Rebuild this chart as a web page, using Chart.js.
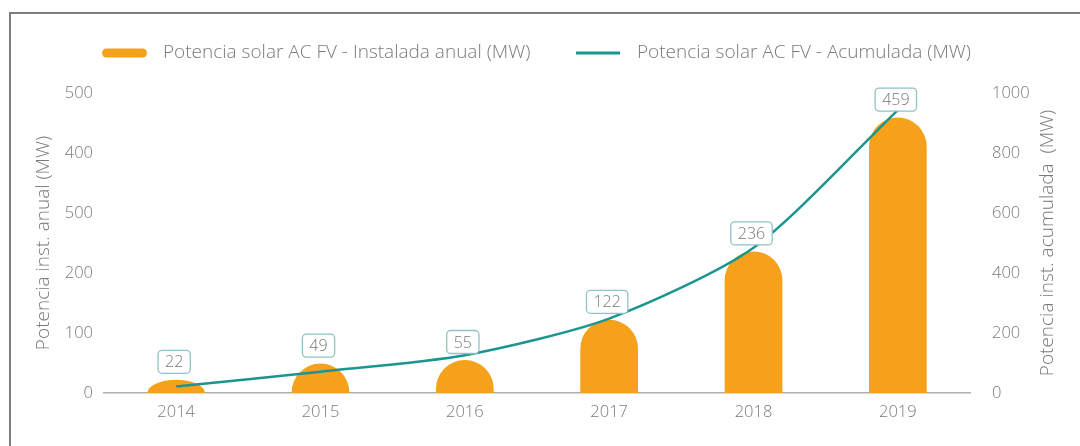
<!DOCTYPE html>
<html>
<head>
<meta charset="utf-8">
<script src="https://cdn.jsdelivr.net/npm/chart.js@4"></script>
<style>
  body { margin: 0; background: #fff; }
  #wrap { position: relative; width: 1080px; height: 446px; overflow: hidden; }
  #frame {
    position: absolute; left: 9px; top: 12px; width: 1100px; height: 460px;
    border-left: 2px solid #7d7d7d; border-top: 2px solid #7d7d7d;
  }
  #box { position: absolute; left: 0; top: 0; width: 1080px; height: 446px; }
</style>
</head>
<body>
<div id="wrap">
  <div id="frame"></div>
  <div id="box"><canvas id="solarChart"></canvas></div>
</div>
<script>
// Data
const years = ["2014", "2015", "2016", "2017", "2018", "2019"];
const annualMW = [22, 49, 55, 122, 236, 459];
const cumulativeMW = [22, 71, 126, 248, 484, 943];
const leftTickLabels = ["0", "100", "200", "500", "400", "500"]; // as printed in the original
const rightTickLabels = ["0", "200", "400", "600", "800", "1000"];

const ORANGE = "#f5a11c";
const TEAL = "#1b958f";
const GREY = "#7a7a7a";
const FONT = "'Open Sans', 'Noto Sans', sans-serif";

// legend drawn by hand so the two markers can differ in shape
const customLegend = {
  id: "customLegend",
  afterDraw(chart) {
    const c = chart.ctx;
    const y = 53;
    c.save();
    c.font = "300 19px " + FONT;
    c.textBaseline = "middle";

    c.fillStyle = ORANGE;
    c.beginPath();
    c.roundRect(102, y - 4.5, 45, 9, 4.5);
    c.fill();
    c.fillStyle = GREY;
    c.fillText(chart.data.datasets[1].label, 163, y);

    c.strokeStyle = TEAL;
    c.lineWidth = 3;
    c.beginPath();
    c.moveTo(576, y);
    c.lineTo(620, y);
    c.stroke();
    c.fillText(chart.data.datasets[0].label, 637, y);

    // right axis title, read bottom-to-top like the left one
    const a = chart.chartArea;
    c.translate(1048, (a.top + a.bottom) / 2);
    c.rotate(-Math.PI / 2);
    c.textAlign = "center";
    c.fillText("Potencia inst. acumulada  (MW)", 0, 0);
    c.restore();
  },
};

// rounded-top bars from the bar elements' own geometry
const domeBars = {
  id: "domeBars",
  beforeDatasetsDraw(chart) {
    const c = chart.ctx;
    const meta = chart.getDatasetMeta(1);
    c.save();
    c.fillStyle = ORANGE;
    meta.data.forEach((bar) => {
      const r = bar.width / 2;
      const h = bar.base - bar.y;
      c.beginPath();
      if (h >= r) {
        c.moveTo(bar.x - r, bar.base);
        c.lineTo(bar.x - r, bar.y + r);
        c.arc(bar.x, bar.y + r, r, Math.PI, 0);
        c.lineTo(bar.x + r, bar.base);
      } else {
        c.ellipse(bar.x, bar.base, r, h, 0, Math.PI, 0);
      }
      c.closePath();
      c.fill();
    });
    c.restore();
  },
};

// value boxes above every bar
const valueBoxes = {
  id: "valueBoxes",
  afterDatasetsDraw(chart) {
    const c = chart.ctx;
    const meta = chart.getDatasetMeta(1);
    c.save();
    c.font = "300 16px " + FONT;
    c.textAlign = "center";
    c.textBaseline = "middle";
    meta.data.forEach((bar, i) => {
      const txt = String(annualMW[i]);
      const w = c.measureText(txt).width + 14;
      const h = 23;
      const cx = bar.x - 2;
      const cy = bar.y - 18;
      c.fillStyle = "#fff";
      c.strokeStyle = "#8fc3c6";
      c.lineWidth = 1.3;
      c.beginPath();
      c.roundRect(cx - w / 2, cy - h / 2, w, h, 4);
      c.fill();
      c.stroke();
      c.fillStyle = GREY;
      c.fillText(txt, cx, cy + 1);
    });
    c.restore();
  },
};

const ctx = document.getElementById("solarChart").getContext("2d");
new Chart(ctx, {
  data: {
    labels: years,
    datasets: [
      {
        type: "line",
        label: "Potencia solar AC FV - Acumulada (MW)",
        data: cumulativeMW,
        yAxisID: "y1",
        borderColor: TEAL,
        borderWidth: 2.5,
        pointRadius: 0,
        tension: 0.25,
        order: 0,
      },
      {
        type: "bar",
        label: "Potencia solar AC FV - Instalada anual (MW)",
        data: annualMW,
        yAxisID: "y",
        backgroundColor: "rgba(0,0,0,0)", // painted by domeBars
        barPercentage: 0.4,
        categoryPercentage: 1,
        order: 1,
      },
    ],
  },
  options: {
    responsive: true,
    maintainAspectRatio: false,
    animation: false,
    layout: { padding: { top: 93, left: 0, right: 0, bottom: 0 } },
    plugins: {
      legend: { display: false },
      tooltip: { enabled: false },
    },
    scales: {
      x: {
        grid: { display: false, drawTicks: false },
        border: { display: true, color: "#b0b0b0", width: 1.5 },
        ticks: { color: GREY, font: { family: FONT, size: 16.5, weight: 300 }, padding: 9 },
        afterFit: (s) => { s.height = 53; },
      },
      y: {
        position: "left",
        min: 0,
        max: 500,
        grid: { display: false, drawTicks: false },
        border: { display: false },
        ticks: {
          stepSize: 100,
          color: GREY,
          font: { family: FONT, size: 16.5, weight: 300 },
          padding: 11,
          callback: (v, i) => leftTickLabels[i],
        },
        title: {
          display: true,
          text: "Potencia inst. anual (MW)",
          color: GREY,
          font: { family: FONT, size: 19, weight: 300 },
          padding: { top: 32 },
        },
        afterFit: (s) => { s.width = 104; },
      },
      y1: {
        position: "right",
        min: 0,
        max: 1000,
        grid: { display: false, drawTicks: false },
        border: { display: false },
        ticks: {
          stepSize: 200,
          color: GREY,
          font: { family: FONT, size: 16.5, weight: 300 },
          padding: 22,
          callback: (v, i) => rightTickLabels[i],
        },
        afterFit: (s) => { s.width = 110; },
      },
    },
  },
  plugins: [customLegend, domeBars, valueBoxes],
});
</script>
</body>
</html>
